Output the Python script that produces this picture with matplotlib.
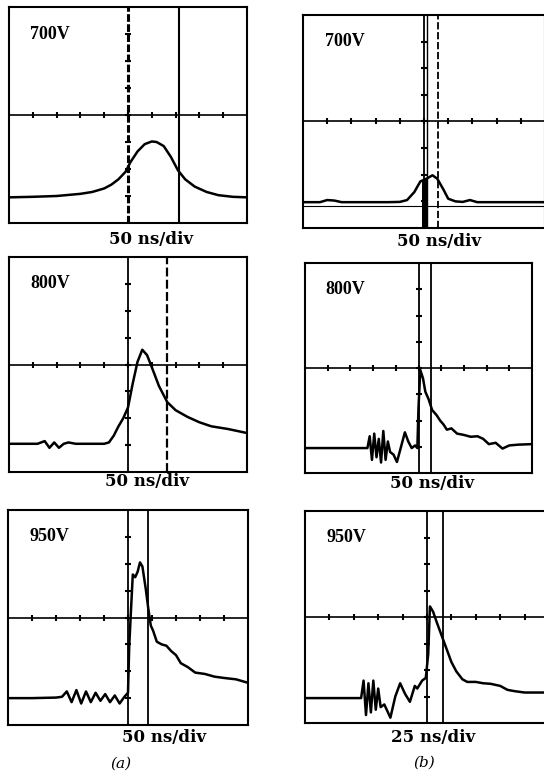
import matplotlib.pyplot as plt
import numpy as np

W, H = 544, 773

# traces in screen divisions (10 x 8 grid)
a700_x = [0, 1, 2, 3, 3.5, 4, 4.3, 4.6, 4.9, 5.1, 5.4, 5.7, 6.0, 6.2, 6.5, 6.8, 7.1, 7.4, 7.8, 8.3, 8.8, 9.4, 10]
a700_y = [0.95, 0.97, 1.0, 1.08, 1.15, 1.28, 1.42, 1.62, 1.9, 2.25, 2.65, 2.92, 3.02, 3.0, 2.85, 2.45, 1.95, 1.62, 1.35, 1.15, 1.03, 0.97, 0.95]

b700_x = [0, 0.7, 1.0, 1.3, 1.6, 2.5, 3.5, 4.0, 4.3, 4.6, 4.85, 5.1, 5.35, 5.55, 5.8, 6.0, 6.3, 6.6, 6.9, 7.2, 8, 9, 10]
b700_y = [0.97, 0.97, 1.05, 1.03, 0.97, 0.97, 0.97, 0.98, 1.05, 1.35, 1.75, 1.85, 1.98, 1.85, 1.45, 1.1, 1.0, 0.98, 1.05, 0.97, 0.97, 0.97, 0.97]

a800_x = [0, 1.2, 1.5, 1.7, 1.9, 2.1, 2.3, 2.5, 2.8, 3.2, 3.6, 4.0, 4.2, 4.4, 4.6, 4.8, 5.0, 5.2, 5.4, 5.6, 5.8, 6.0, 6.3, 6.65, 7.0, 7.5, 8.0, 8.5, 9.2, 10]
a800_y = [1.05, 1.05, 1.15, 0.9, 1.1, 0.9, 1.05, 1.1, 1.05, 1.05, 1.05, 1.05, 1.1, 1.35, 1.7, 2.0, 2.4, 3.3, 4.1, 4.55, 4.35, 3.9, 3.2, 2.6, 2.3, 2.05, 1.85, 1.7, 1.6, 1.45]

b800_x = [0, 1, 2, 2.75, 2.85, 2.95, 3.05, 3.15, 3.25, 3.35, 3.45, 3.55, 3.65, 3.75, 3.9, 4.05, 4.2, 4.4, 4.55, 4.7, 4.85,
          4.95, 5.0, 5.08, 5.2, 5.3, 5.45, 5.6, 5.8, 5.95, 6.1, 6.25, 6.45, 6.7, 7.0, 7.3, 7.6, 7.85, 8.1, 8.4, 8.7, 9.0, 9.4, 10]
b800_y = [0.95, 0.95, 0.95, 0.95, 1.4, 0.5, 1.5, 0.6, 1.3, 0.4, 1.6, 0.5, 1.2, 0.8, 0.7, 0.42, 0.9, 1.55, 1.2, 0.95, 1.05,
          0.95, 2.5, 3.92, 3.6, 3.1, 2.8, 2.4, 2.2, 2.0, 1.85, 1.65, 1.7, 1.5, 1.45, 1.38, 1.4, 1.3, 1.1, 1.15, 0.93, 1.05, 1.08, 1.1]

a950_x = [0, 1, 2, 2.25, 2.45, 2.65, 2.85, 3.05, 3.25, 3.45, 3.65, 3.85, 4.05, 4.25, 4.45, 4.65, 4.85, 5.0, 5.05, 5.12,
          5.2, 5.3, 5.4, 5.5, 5.6, 5.75, 5.85, 5.95, 6.05, 6.2, 6.4, 6.6, 6.8, 7.0, 7.2, 7.5, 7.8, 8.2, 8.6, 9.0, 9.5, 10]
a950_y = [1.0, 1.0, 1.02, 1.05, 1.25, 0.85, 1.3, 0.8, 1.25, 0.85, 1.2, 0.9, 1.15, 0.85, 1.1, 0.8, 1.05, 1.2, 2.9, 4.2,
          5.6, 5.5, 5.7, 6.05, 5.9, 5.0, 4.3, 3.7, 3.5, 3.1, 3.0, 2.95, 2.75, 2.6, 2.3, 2.15, 1.95, 1.9, 1.8, 1.75, 1.7, 1.57]

b950_x = [0, 1, 2.3, 2.4, 2.5, 2.6, 2.7, 2.8, 2.9, 3.0, 3.1, 3.25, 3.5, 3.7, 3.9, 4.1, 4.3, 4.5, 4.6, 4.8, 4.95, 5.05,
          5.12, 5.25, 5.4, 5.6, 5.8, 6.0, 6.2, 6.45, 6.65, 7.0, 7.3, 7.6, 8.0, 8.3, 8.6, 9.0, 9.5, 10]
b950_y = [0.94, 0.94, 0.94, 1.6, 0.3, 1.5, 0.4, 1.6, 0.5, 1.3, 0.6, 0.7, 0.2, 1.0, 1.5, 1.1, 0.8, 1.4, 1.3, 1.6, 1.7, 2.6,
          4.4, 4.2, 3.8, 3.3, 2.8, 2.3, 1.95, 1.65, 1.55, 1.55, 1.5, 1.48, 1.4, 1.25, 1.2, 1.15, 1.15, 1.15]

labels = ['700V', '700V', '800V', '800V', '950V', '950V']
scales = ['50 ns/div', '50 ns/div', '50 ns/div', '50 ns/div', '50 ns/div', '25 ns/div']

fig = plt.figure(figsize=(W / 100, H / 100), dpi=100)

def panel(box, x, y, label, scale, cursors, scale_pos, center_dashed=False):
    l, t, r, b = box
    ax = fig.add_axes([l / W, 1 - b / H, (r - l) / W, (b - t) / H])
    ax.set_xlim(0, 10)
    ax.set_ylim(0, 8)
    ax.set_xticks([])
    ax.set_yticks([])
    for s in ax.spines.values():
        s.set_linewidth(1.5)
    ax.axhline(4, color='black', lw=1.2)
    if center_dashed:
        ax.axvline(5, color='black', lw=2.2, ls=(0, (2.5, 0.8)))
    else:
        ax.axvline(5, color='black', lw=1.3)
    for cx, st, lw in cursors:
        ax.axvline(cx, color='black', lw=lw, ls=st)
    ax.plot(range(1, 10), [4] * 9, '|', color='black', ms=5, mew=1.5)
    ax.plot([5] * 7, range(1, 8), '_', color='black', ms=5, mew=1.5)
    ax.plot(x, y, color='black', lw=1.8, solid_joinstyle='round')
    ax.text(0.9, 7.0, label, fontsize=13, fontweight='bold', family='Liberation Serif', va='center')
    fig.text(scale_pos[0] / W, 1 - scale_pos[1] / H, scale, fontsize=12, fontweight='bold',
             family='DejaVu Serif', ha='center', va='center')
    return ax

panel((9, 7, 247, 223), a700_x, a700_y, labels[0], scales[0],
      [(7.14, '-', 1.5)], (151, 240), center_dashed=True)
ax = panel((303, 15, 545, 228), b700_x, b700_y, labels[1], scales[1],
           [(5.13, '-', 1.0), (5.58, (0, (4, 1.5)), 1.3)], (439, 241))
ax.axhline(0.82, color='black', lw=0.8)
ax.fill_between([4.9, 5.15], 0, 1.8, color='black', lw=0)
panel((9, 257, 247, 472), a800_x, a800_y, labels[2], scales[2],
      [(6.64, (0, (4, 1.5)), 1.6)], (147, 481))
panel((305, 263, 532, 473), b800_x, b800_y, labels[3], scales[3],
      [(5.55, '-', 1.3)], (432, 483))
panel((8, 510, 248, 725), a950_x, a950_y, labels[4], scales[4],
      [(5.83, '-', 1.3)], (164, 738))
panel((305, 511, 549, 723), b950_x, b950_y, labels[5], scales[5],
      [(5.66, '-', 1.3)], (433, 738))

fig.text(121 / W, 1 - 764 / H, '(a)', fontsize=11, style='italic', family='DejaVu Serif', ha='center', va='center')
fig.text(424 / W, 1 - 763 / H, '(b)', fontsize=11, style='italic', family='DejaVu Serif', ha='center', va='center')

fig.savefig('out.png', dpi=100)
